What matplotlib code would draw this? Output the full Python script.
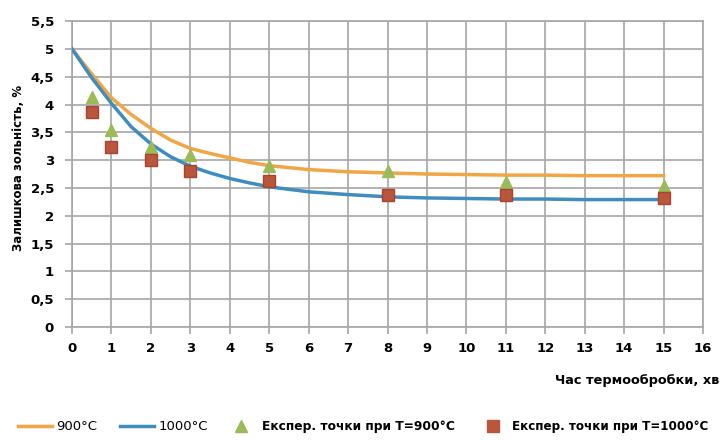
'''residual ash content vs heat treatment time'''
import matplotlib
matplotlib.use('Agg')
import matplotlib.pyplot as plt
from matplotlib.lines import Line2D

# curves
t_curve = [0, 0.5, 1, 1.5, 2, 2.5, 3, 3.5, 4, 4.5, 5, 6, 7, 8, 9, 10, 11, 12, 13, 14, 15]
ash_900 = [5.0, 4.55, 4.12, 3.82, 3.57, 3.36, 3.21, 3.12, 3.04, 2.96, 2.9, 2.83, 2.79, 2.77, 2.75,
           2.74, 2.73, 2.73, 2.72, 2.72, 2.72]
ash_1000 = [5.0, 4.48, 4.02, 3.6, 3.29, 3.06, 2.89, 2.77, 2.67, 2.59, 2.52, 2.43, 2.38, 2.34, 2.32,
            2.31, 2.3, 2.3, 2.29, 2.29, 2.29]

# experimental points
t_exp = [0.5, 1, 2, 3, 5, 8, 11, 15]
exp_900 = [4.13, 3.55, 3.24, 3.1, 2.89, 2.8, 2.61, 2.53]
exp_1000 = [3.86, 3.24, 3.0, 2.81, 2.62, 2.38, 2.38, 2.32]

x_ticks = list(range(0, 17))
y_ticks = [0, 0.5, 1, 1.5, 2, 2.5, 3, 3.5, 4, 4.5, 5, 5.5]
y_labels = ['0', '0,5', '1', '1,5', '2', '2,5', '3', '3,5', '4', '4,5', '5', '5,5']

c_900 = '#F2A545'
c_1000 = '#3F8DC0'
c_tri = '#9BBB59'
c_sq = '#B9563C'
grid_c = '#A6A6A6'

fig = plt.figure(figsize=(7.21, 4.40), dpi=100)
ax = fig.add_axes([0.0999, 0.257, 0.8752, 0.695])

ax.plot(t_curve, ash_900, color=c_900, lw=2.5, zorder=3)
ax.plot(t_curve, ash_1000, color=c_1000, lw=2.5, zorder=3)
ax.plot(t_exp, exp_900, linestyle='none', marker='^', ms=9, color=c_tri, zorder=4)
ax.plot(t_exp, exp_1000, linestyle='none', marker='s', ms=9, color=c_sq,
        markeredgecolor='#A5452F', zorder=5)

ax.set_xlim(0, 16)
ax.set_ylim(0, 5.5)
ax.set_xticks(x_ticks)
ax.set_yticks(y_ticks)
ax.set_yticklabels(y_labels)
ax.grid(True, color=grid_c, lw=1.2)
ax.set_axisbelow(True)
for s in ax.spines.values():
    s.set_color(grid_c)
    s.set_linewidth(1.2)
ax.tick_params(axis='both', colors=grid_c, length=5, width=1.2, labelcolor='black')
ax.tick_params(axis='x', pad=6)
ax.tick_params(axis='y', pad=8)
for lab in ax.get_xticklabels() + ax.get_yticklabels():
    lab.set_fontweight('bold')
    lab.set_fontsize(9.5)

fig.text(0.998, 0.135, 'Час термообробки, хв', ha='right', va='center',
         fontsize=9.3, fontweight='bold')
fig.text(0.025, 0.618, 'Залишкова зольність, %', rotation=90, ha='center', va='center',
         fontsize=8.5, fontweight='bold')

# legend entries placed one by one, like the reference row
entries = [
    (Line2D([], [], color=c_900, lw=2.5), '900°C', 18, 2.6, 0.3, 'normal', 9.5),
    (Line2D([], [], color=c_1000, lw=2.5), '1000°C', 120, 2.6, 0.3, 'normal', 9.5),
    (Line2D([], [], linestyle='none', marker='^', ms=8, color=c_tri),
     'Експер. точки при T=900°C', 234, 1.2, 1.1, 'bold', 8.8),
    (Line2D([], [], linestyle='none', marker='s', ms=8, color=c_sq),
     'Експер. точки при T=1000°C', 486, 1.2, 1.0, 'bold', 8.6),
]
for handle, label, x0, hl, pad, weight, size in entries:
    leg = fig.legend([handle], [label], loc='center left', bbox_to_anchor=(x0 / 721, 0.03),
                     frameon=False, borderpad=0, borderaxespad=0, handlelength=hl,
                     handletextpad=pad, prop={'weight': weight, 'size': size})

fig.savefig('out.png', dpi=100)
